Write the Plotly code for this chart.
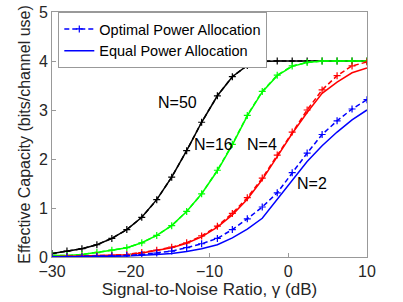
import plotly.graph_objects as go

snr_db = [-30, -28.1, -26.2, -24.3, -22.4, -20.5, -18.6, -16.7, -14.8, -12.9, -11.0,
          -9.0, -7.1, -5.2, -3.3, -1.4, 0.5, 2.4, 4.3, 6.2, 8.1, 10]

n50_opt = [0.07, 0.12, 0.17, 0.25, 0.38, 0.56, 0.81, 1.17, 1.63, 2.17, 2.75,
           3.29, 3.68, 3.91, 4.0, 4.0, 4.0, 4.0, 4.0, 4.0, 4.0, 4.0]
n50_eq = [0.07, 0.12, 0.17, 0.25, 0.38, 0.56, 0.81, 1.17, 1.63, 2.17, 2.75,
          3.29, 3.68, 3.91, 3.99, 4.0, 4.0, 4.0, 4.0, 4.0, 4.0, 4.0]
n16_opt = [0.03, 0.03, 0.05, 0.09, 0.14, 0.19, 0.29, 0.44, 0.64, 0.93, 1.29,
           1.77, 2.30, 2.89, 3.38, 3.71, 3.90, 3.97, 4.0, 4.0, 4.0, 4.0]
n16_eq = [0.03, 0.03, 0.05, 0.09, 0.14, 0.19, 0.29, 0.44, 0.64, 0.93, 1.29,
          1.76, 2.29, 2.88, 3.37, 3.70, 3.89, 3.97, 4.0, 4.0, 4.0, 4.0]
n4_opt = [0.005, 0.01, 0.015, 0.025, 0.035, 0.05, 0.09, 0.14, 0.20, 0.29, 0.43,
          0.63, 0.89, 1.21, 1.61, 2.08, 2.55, 3.0, 3.41, 3.70, 3.90, 3.98]
n4_eq = [0.005, 0.01, 0.015, 0.02, 0.03, 0.045, 0.08, 0.13, 0.19, 0.28, 0.41,
         0.61, 0.86, 1.18, 1.58, 2.05, 2.52, 2.95, 3.34, 3.57, 3.76, 3.86]
n2_opt = [0.0, 0.003, 0.006, 0.01, 0.02, 0.03, 0.05, 0.08, 0.12, 0.19, 0.27,
          0.38, 0.56, 0.78, 1.02, 1.31, 1.72, 2.12, 2.50, 2.78, 3.02, 3.21]
n2_eq = [0.0, 0.0, 0.005, 0.01, 0.015, 0.02, 0.03, 0.05, 0.07, 0.11, 0.17,
         0.25, 0.39, 0.57, 0.79, 1.17, 1.55, 1.95, 2.27, 2.55, 2.80, 3.0]

series = [
    ("N=50", "black", n50_opt, n50_eq),
    ("N=16", "#00ff00", n16_opt, n16_eq),
    ("N=4", "#ff0000", n4_opt, n4_eq),
    ("N=2", "#0000ff", n2_opt, n2_eq),
]

labels = ["N=50", "N=16", "N=4", "N=2"]
label_x = [-14.1, -9.5, -3.3, 3.0]
label_y = [3.15, 2.3, 2.3, 1.49]

legend_names = ["Optimal Power Allocation", "Equal Power Allocation"]

DASH = "5px,3px"

fig = go.Figure()
for name, color, opt, eq in series:
    fig.add_trace(go.Scatter(x=snr_db, y=eq, mode="lines", showlegend=False,
                             line=dict(color=color, width=1.5)))
    fig.add_trace(go.Scatter(x=snr_db, y=opt, mode="lines+markers", showlegend=False,
                             line=dict(color=color, width=1.5, dash=DASH),
                             marker=dict(symbol="cross-thin", size=5,
                                         line=dict(color=color, width=1.2))))

fig.add_trace(go.Scatter(x=[None], y=[None], mode="lines+markers", name=legend_names[0],
                         line=dict(color="#0000ff", width=1.5, dash=DASH),
                         marker=dict(symbol="cross-thin", size=5,
                                     line=dict(color="#0000ff", width=1.2))))
fig.add_trace(go.Scatter(x=[None], y=[None], mode="lines", name=legend_names[1],
                         line=dict(color="#0000ff", width=1.5)))

for t, lx, ly in zip(labels, label_x, label_y):
    fig.add_annotation(x=lx, y=ly, text=t, showarrow=False,
                       font=dict(size=16, color="black"))

axis_common = dict(showline=True, linecolor="#999999", linewidth=1, mirror=True,
                   ticks="inside", ticklen=4, tickcolor="#999999", showgrid=False,
                   zeroline=False, automargin=False,
                   tickfont=dict(size=16, color="#262626"))

fig.update_layout(
    width=403, height=302,
    margin=dict(l=52, r=36, t=12, b=45),
    paper_bgcolor="white", plot_bgcolor="white",
    font=dict(family="Liberation Sans, Arial, sans-serif", color="#262626"),
    xaxis=dict(range=[-30, 10], tickvals=[-30, -20, -10, 0, 10],
               title=dict(text="Signal-to-Noise Ratio, γ (dB)", font=dict(size=17), standoff=0),
               **axis_common),
    yaxis=dict(range=[0, 5], tickvals=[0, 1, 2, 3, 4, 5],
               title=dict(text="Effective Capacity (bits/channel use)", font=dict(size=16), standoff=4),
               **axis_common),
    legend=dict(x=0.02, y=1.0, xanchor="left", yanchor="top",
                bgcolor="white", bordercolor="#999999", borderwidth=1,
                font=dict(size=14.5, color="black"), tracegroupgap=0,
                itemwidth=30),
)

fig.write_html("out.html", config={"displayModeBar": False},
               post_script="document.body.style.margin='0';document.body.style.overflow='hidden';")
